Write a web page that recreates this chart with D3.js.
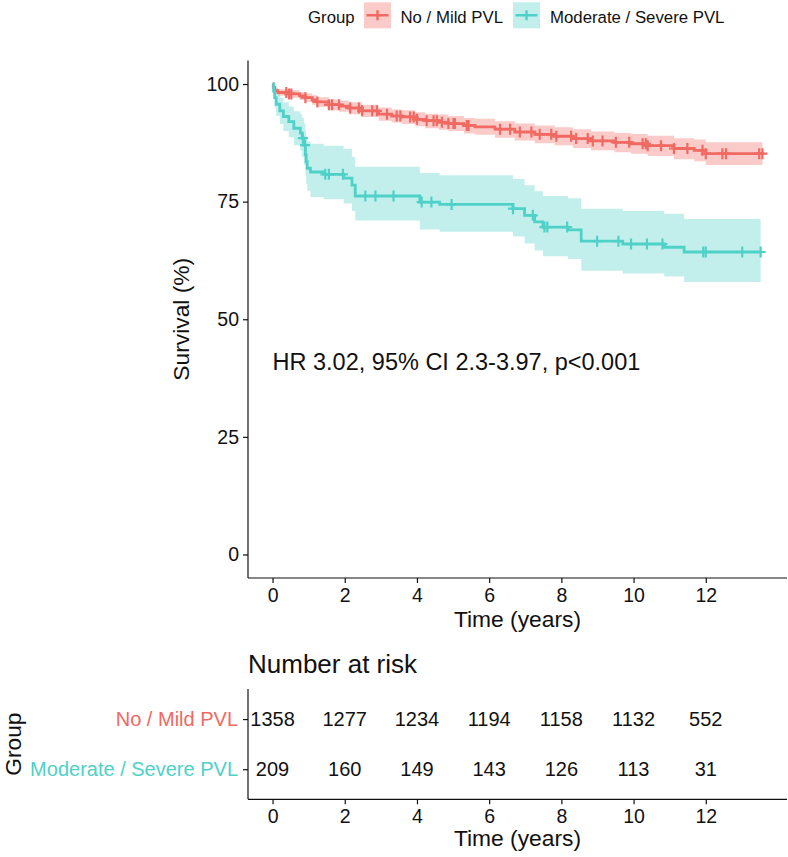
<!DOCTYPE html>
<html>
<head>
<meta charset="utf-8">
<script src="https://cdn.jsdelivr.net/npm/d3@7"></script>
<style>
  body { margin: 0; background: #fff; }
  svg text { font-family: "Liberation Sans", Arial, sans-serif; }
</style>
</head>
<body>
<svg id="chart" width="788" height="857"></svg>
<script>
// groups and colours
var groups = ["No / Mild PVL", "Moderate / Severe PVL"];
var colors = ["#F06A63", "#4FD1C8"];

// No / Mild PVL : KM steps (time in years, survival %) and 95% CI
var redTime  = [0, 0.02, 0.06, 0.15, 0.45, 0.75, 0.91, 1.1, 1.23, 1.56, 1.85, 2.11, 2.48, 2.94, 3.3, 3.58, 3.95, 4.23, 4.6, 4.87, 5.3, 5.61, 6.16, 6.71, 7.26, 7.81, 8.32, 8.82, 9.47, 9.93, 10.39, 11.12, 11.68, 12.0, 13.57];
var redSurv  = [100, 99.3, 98.6, 98.2, 97.9, 97.5, 97.1, 96.6, 96.2, 95.6, 95.3, 94.9, 94.3, 93.6, 93.2, 93.0, 92.5, 92.2, 91.9, 91.6, 91.2, 90.9, 90.4, 89.8, 89.3, 88.9, 88.4, 87.9, 87.6, 87.3, 86.9, 86.3, 85.9, 85.2, 85.2];
var redLower = [100, 98.8, 98.0, 97.5, 97.1, 96.6, 96.2, 95.6, 95.1, 94.4, 94.1, 93.6, 93.0, 92.2, 91.8, 91.5, 91.0, 90.6, 90.3, 90.0, 89.5, 89.2, 88.6, 88.0, 87.4, 87.0, 86.4, 85.9, 85.5, 85.2, 84.7, 84.0, 83.6, 82.8, 82.8];
var redUpper = [100, 99.8, 99.2, 98.9, 98.7, 98.3, 98.0, 97.6, 97.2, 96.7, 96.5, 96.1, 95.6, 95.0, 94.6, 94.4, 94.0, 93.7, 93.5, 93.2, 92.8, 92.6, 92.1, 91.6, 91.2, 90.8, 90.4, 89.9, 89.6, 89.4, 89.0, 88.5, 88.2, 87.6, 87.6];
var redCensor = [0.38, 0.46, 0.52, 0.91, 1.24, 1.56, 1.65, 1.84, 2.15, 2.39, 2.48, 2.76, 2.89, 3.17, 3.44, 3.54, 3.81, 3.91, 4.0, 4.27, 4.46, 4.55, 4.69, 4.87, 5.01, 5.05, 5.38, 5.43, 6.3, 6.58, 6.85, 7.17, 7.4, 7.72, 7.86, 8.27, 8.41, 8.73, 8.87, 9.14, 9.51, 9.88, 10.25, 10.34, 10.39, 10.76, 11.12, 11.49, 11.91, 12.0, 12.46, 12.56, 13.48, 13.57];

// Moderate / Severe PVL
var tealTime  = [0, 0.03, 0.06, 0.1, 0.2, 0.3, 0.45, 0.59, 0.77, 0.82, 0.87, 0.91, 0.93, 0.96, 1.05, 1.42, 1.97, 2.2, 2.29, 4.08, 4.63, 6.66, 6.98, 7.26, 7.49, 8.18, 8.55, 9.7, 10.85, 11.4, 13.52];
var tealSurv  = [100, 98.5, 97.1, 95.7, 94.3, 93.1, 92.0, 90.6, 89.6, 88.5, 87.0, 85.0, 83.5, 82.1, 81.3, 80.8, 80.0, 78.5, 76.2, 74.9, 74.4, 73.5, 72.1, 70.7, 69.6, 69.0, 66.6, 66.0, 65.3, 64.3, 64.3];
var tealLower = [100, 96.9, 95.0, 93.2, 91.5, 90.0, 88.7, 87.0, 85.8, 84.5, 82.8, 80.5, 78.8, 77.3, 76.0, 75.5, 74.6, 73.0, 71.0, 69.1, 68.6, 67.6, 66.1, 64.6, 63.4, 62.8, 60.3, 59.7, 59.1, 57.9, 57.9];
var tealUpper = [100, 100, 99.3, 98.3, 97.1, 96.1, 95.2, 94.2, 93.6, 92.8, 91.6, 90.0, 88.9, 87.8, 87.3, 86.9, 86.2, 84.5, 82.4, 81.1, 80.6, 79.8, 78.5, 77.2, 76.2, 75.7, 73.5, 73.0, 72.4, 71.3, 71.3];
var tealCensor = [0.84, 0.9, 1.46, 1.56, 1.95, 2.57, 2.85, 3.35, 4.13, 4.4, 4.96, 6.66, 7.21, 7.53, 7.61, 8.16, 8.99, 9.58, 9.93, 10.37, 10.8, 11.93, 12.0, 13.01, 13.52];

// axis ticks
var timeTicks = [0, 2, 4, 6, 8, 10, 12];
var survTicks = [0, 25, 50, 75, 100];

// number at risk
var riskNoMild = [1358, 1277, 1234, 1194, 1158, 1132, 552];
var riskModSev = [209, 160, 149, 143, 126, 113, 31];

var hrText = "HR 3.02, 95% CI 2.3-3.97, p<0.001";

var series = [
  {name: groups[0], color: colors[0], time: redTime, surv: redSurv, lo: redLower, hi: redUpper, cens: redCensor},
  {name: groups[1], color: colors[1], time: tealTime, surv: tealSurv, lo: tealLower, hi: tealUpper, cens: tealCensor}
];

var ink = "#111";
var svg = d3.select("#chart");

// layout
var left = 248, right = 787;
var mainTop = 60.5, mainBottom = 578;
var tabTop = 689, tabBottom = 799.3;

var x = d3.scaleLinear().domain([-0.68, 14.25]).range([left, right]);
var y = d3.scaleLinear().domain([-5, 105]).range([mainBottom, mainTop]);

// ---- main panel ----
var main = svg.append("g");

series.forEach(function(s) {
  var pts = s.time.map(function(t, i) { return {t: t, s: s.surv[i], lo: s.lo[i], hi: s.hi[i]}; });
  var area = d3.area().curve(d3.curveStepAfter)
      .x(function(d) { return x(d.t); })
      .y0(function(d) { return y(d.lo); })
      .y1(function(d) { return y(d.hi); });
  main.append("path").attr("d", area(pts))
      .attr("fill", s.color).attr("fill-opacity", 0.35);
});

series.forEach(function(s) {
  var pts = s.time.map(function(t, i) { return {t: t, s: s.surv[i]}; });
  var line = d3.line().curve(d3.curveStepAfter)
      .x(function(d) { return x(d.t); })
      .y(function(d) { return y(d.s); });
  main.append("path").attr("d", line(pts))
      .attr("fill", "none").attr("stroke", s.color).attr("stroke-width", 2.8);

  // censor marks sit on the step curve
  var bis = d3.bisector(function(d) { return d; }).right;
  main.selectAll(null).data(s.cens).enter().append("path")
      .attr("transform", function(c) {
        var i = Math.max(0, bis(s.time, c) - 1);
        return "translate(" + x(c) + "," + y(s.surv[i]) + ")";
      })
      .attr("d", "M-5,0H5M0,-5.5V5.5")
      .attr("stroke", s.color).attr("stroke-width", 2.2).attr("fill", "none");
});

// axes
var xAxis = main.append("g").attr("transform", "translate(0," + mainBottom + ")")
    .call(d3.axisBottom(x).tickValues(timeTicks).tickSize(5).tickPadding(5));
var yAxis = main.append("g").attr("transform", "translate(" + left + ",0)")
    .call(d3.axisLeft(y).tickValues(survTicks).tickSize(5).tickPadding(4));

function styleAxis(g, size) {
  g.select(".domain").attr("stroke", ink).attr("stroke-width", 1.2);
  g.selectAll(".tick line").attr("stroke", ink).attr("stroke-width", 1.2);
  g.selectAll(".tick text").attr("font-size", size).style("fill", ink)
    .style("font-family", "Liberation Sans, Arial, sans-serif");
}
styleAxis(xAxis, 19.5);
styleAxis(yAxis, 19.5);
xAxis.select(".domain").attr("d", "M" + left + ",0H" + right);
yAxis.select(".domain").attr("d", "M0," + mainTop + "V" + mainBottom);

main.append("text").attr("x", (left + right) / 2).attr("y", 627)
    .attr("text-anchor", "middle").attr("font-size", 22.8).style("fill", ink).text("Time (years)");
main.append("text").attr("transform", "translate(189," + ((mainTop + mainBottom) / 2) + ") rotate(-90)")
    .attr("text-anchor", "middle").attr("font-size", 22.8).style("fill", ink).text("Survival (%)");

main.append("text").attr("x", x(0)).attr("y", 370)
    .attr("font-size", 23.5).style("fill", ink).text(hrText);

// ---- legend ----
var legend = svg.append("g");
legend.append("text").attr("x", 308).attr("y", 22.5).attr("font-size", 16.8).style("fill", ink).text("Group");
var keyX = [364, 513], textX = [400.5, 550];
series.forEach(function(s, i) {
  var g = legend.append("g").attr("transform", "translate(" + keyX[i] + ",2.3)");
  g.append("rect").attr("width", 27).attr("height", 26).attr("fill", s.color).attr("fill-opacity", 0.35);
  g.append("path").attr("d", "M2.5,13H24.5M13.5,8V18").attr("stroke", s.color)
    .attr("stroke-width", 2.4).attr("fill", "none");
  legend.append("text").attr("x", textX[i]).attr("y", 22.5).attr("font-size", 16.8).style("fill", ink).text(s.name);
});

// ---- risk table ----
var tab = svg.append("g");
var yr = d3.scalePoint().domain(groups).range([tabTop, tabBottom]).padding(0.6);
var risk = [riskNoMild, riskModSev];

tab.append("text").attr("x", left).attr("y", 673).attr("font-size", 26).style("fill", ink).text("Number at risk");

groups.forEach(function(gname, gi) {
  tab.selectAll(null).data(risk[gi]).enter().append("text")
      .attr("x", function(d, i) { return x(timeTicks[i]); })
      .attr("y", yr(gname)).attr("dy", "0.36em")
      .attr("text-anchor", "middle").attr("font-size", 20).style("fill", ink)
      .text(function(d) { return d; });
});

var tx = tab.append("g").attr("transform", "translate(0," + tabBottom + ")")
    .call(d3.axisBottom(x).tickValues(timeTicks).tickSize(5).tickPadding(5));
var ty = tab.append("g").attr("transform", "translate(" + left + ",0)")
    .call(d3.axisLeft(yr).tickSize(5).tickPadding(5));
styleAxis(tx, 19.5);
styleAxis(ty, 20);
tx.select(".domain").attr("d", "M" + left + ",0H" + right);
ty.select(".domain").attr("d", "M0," + tabTop + "V" + tabBottom);
ty.selectAll(".tick text").style("fill", function(d, i) { return colors[i]; });

tab.append("text").attr("x", (left + right) / 2).attr("y", 846)
    .attr("text-anchor", "middle").attr("font-size", 22.8).style("fill", ink).text("Time (years)");
tab.append("text").attr("transform", "translate(20.5," + ((tabTop + tabBottom) / 2) + ") rotate(-90)")
    .attr("text-anchor", "middle").attr("font-size", 22.8).style("fill", ink).text("Group");
</script>
</body>
</html>
